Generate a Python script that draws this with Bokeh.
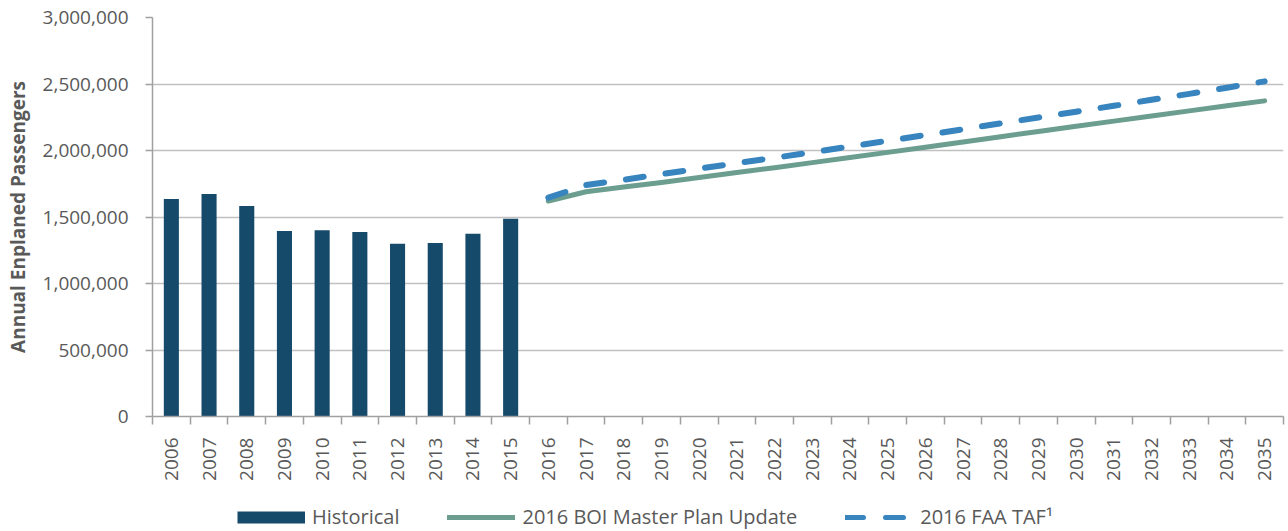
import math

from bokeh.plotting import figure
from bokeh.layouts import column
from bokeh.models import (Range1d, FixedTicker, NumeralTickFormatter, Legend,
                          LegendItem, ColumnDataSource)
from bokeh.embed import file_html
from bokeh.resources import INLINE

# Historical enplanements
hist_years = [2006, 2007, 2008, 2009, 2010, 2011, 2012, 2013, 2014, 2015]
hist_values = [1635000, 1672000, 1583000, 1395000, 1400000, 1388000,
               1298000, 1305000, 1375000, 1487000]

# Forecasts
forecast_years = [2016, 2017, 2018, 2019, 2020, 2021, 2022, 2023, 2024, 2025,
                  2026, 2027, 2028, 2029, 2030, 2031, 2032, 2033, 2034, 2035]
master_plan = [1620000, 1690000, 1725000, 1760000, 1797000, 1834000, 1871000,
               1909000, 1947000, 1986000, 2025000, 2064000, 2104000, 2143000,
               2182000, 2221000, 2260000, 2298000, 2336000, 2373000]
faa_taf = [1645000, 1740000, 1780000, 1822000, 1864000, 1905000, 1945000,
           1987000, 2030000, 2073000, 2116000, 2160000, 2204000, 2248000,
           2292000, 2336000, 2381000, 2426000, 2472000, 2520000]

y_ticks = [0, 500000, 1000000, 1500000, 2000000, 2500000, 3000000]
legend_labels = ["Historical", "2016 BOI Master Plan Update", "2016 FAA TAF\u00b9"]

all_years = hist_years + forecast_years

FONT = "Open Sans"
TEXT = "#595959"
AXIS = "#a0a0a0"
BAR = "#164a6a"
GREEN = "#6b9e8e"
BLUE = "#3784bf"

mp_style = dict(line_color=GREEN, line_width=5, line_cap="round", line_join="round")
faa_style = dict(line_color=BLUE, line_width=6, line_dash="18 22",
                 line_cap="round", line_join="round")

# ---- main chart ----
p = figure(width=1288, height=491, output_backend="svg", toolbar_location=None,
           x_range=Range1d(all_years[0] - 0.5, all_years[-1] + 0.5),
           y_range=Range1d(0, 3000000),
           min_border_left=152, min_border_right=5,
           min_border_top=17, min_border_bottom=75)
p.outline_line_color = None

hist_src = ColumnDataSource(dict(x=hist_years, y=hist_values))
fc_src = ColumnDataSource(dict(x=forecast_years, mp=master_plan, faa=faa_taf))

p.vbar(x="x", top="y", width=0.4, source=hist_src, fill_color=BAR, line_color=None)
p.line("x", "mp", source=fc_src, **mp_style)
p.line("x", "faa", source=fc_src, **faa_style)

# x axis: year labels centred, ticks on the boundaries between years
p.xaxis.ticker = FixedTicker(ticks=all_years,
                             minor_ticks=[y - 0.5 for y in all_years] + [all_years[-1] + 0.5])
p.xaxis.major_label_orientation = math.pi / 2
p.xaxis.major_tick_out = 0
p.xaxis.major_tick_in = 0
p.xaxis.minor_tick_out = 8
p.xaxis.minor_tick_in = 0
p.xaxis.minor_tick_line_color = AXIS
p.xaxis.minor_tick_line_width = 1.5
p.xaxis.major_label_standoff = 13
p.xgrid.visible = False

# y axis
p.yaxis.ticker = FixedTicker(ticks=y_ticks)
p.yaxis.formatter = NumeralTickFormatter(format="0,0")
p.yaxis.major_tick_out = 7
p.yaxis.major_tick_in = 0
p.yaxis.minor_tick_line_color = None
p.yaxis.major_label_standoff = 17
p.yaxis.axis_label = "Annual Enplaned Passengers"
p.yaxis.axis_label_text_font = FONT
p.yaxis.axis_label_text_font_style = "bold"
p.yaxis.axis_label_text_font_size = "19px"
p.yaxis.axis_label_text_color = TEXT
p.yaxis.axis_label_standoff = 9
p.ygrid.grid_line_color = "#c0c0c0"
p.ygrid.grid_line_width = 1.5

for ax in (p.xaxis, p.yaxis):
    ax.axis_line_color = AXIS
    ax.axis_line_width = 1.5
    ax.major_tick_line_color = AXIS
    ax.major_tick_line_width = 1.5
    ax.major_label_text_font = FONT
    ax.major_label_text_font_size = "19px"
    ax.major_label_text_color = TEXT

# ---- legend strip under the chart ----
lg = figure(width=1288, height=40, output_backend="svg", toolbar_location=None,
            x_range=Range1d(0, 1), y_range=Range1d(0, 1),
            min_border_left=0, min_border_right=0,
            min_border_top=0, min_border_bottom=0)
lg.outline_line_color = None
lg.axis.visible = False
lg.grid.visible = False

# swatch renderers sit outside the strip's ranges; only their legend glyphs show
swatch = ColumnDataSource(dict(x=[-10, -9], y=[-10, -9]))
r_bar = lg.line("x", "y", source=swatch, line_color=BAR, line_width=12, line_cap="butt")
r_mp = lg.line("x", "y", source=swatch, **mp_style)
r_faa = lg.line("x", "y", source=swatch, **dict(faa_style, line_width=5))

legend = Legend(items=[
    LegendItem(label=legend_labels[0], renderers=[r_bar]),
    LegendItem(label=legend_labels[1], renderers=[r_mp]),
    LegendItem(label=legend_labels[2], renderers=[r_faa]),
], orientation="horizontal", location=(85, 1))
legend.glyph_width = 68
legend.glyph_height = 14
legend.label_standoff = 7
legend.spacing = 48
legend.padding = 0
legend.margin = 0
legend.border_line_color = None
legend.background_fill_alpha = 0
legend.label_text_font = FONT
legend.label_text_font_size = "20px"
legend.label_text_color = TEXT
legend.label_height = 20
lg.add_layout(legend, "center")

layout = column(p, lg, spacing=0)
open("out.html", "w").write(file_html(layout, INLINE))
